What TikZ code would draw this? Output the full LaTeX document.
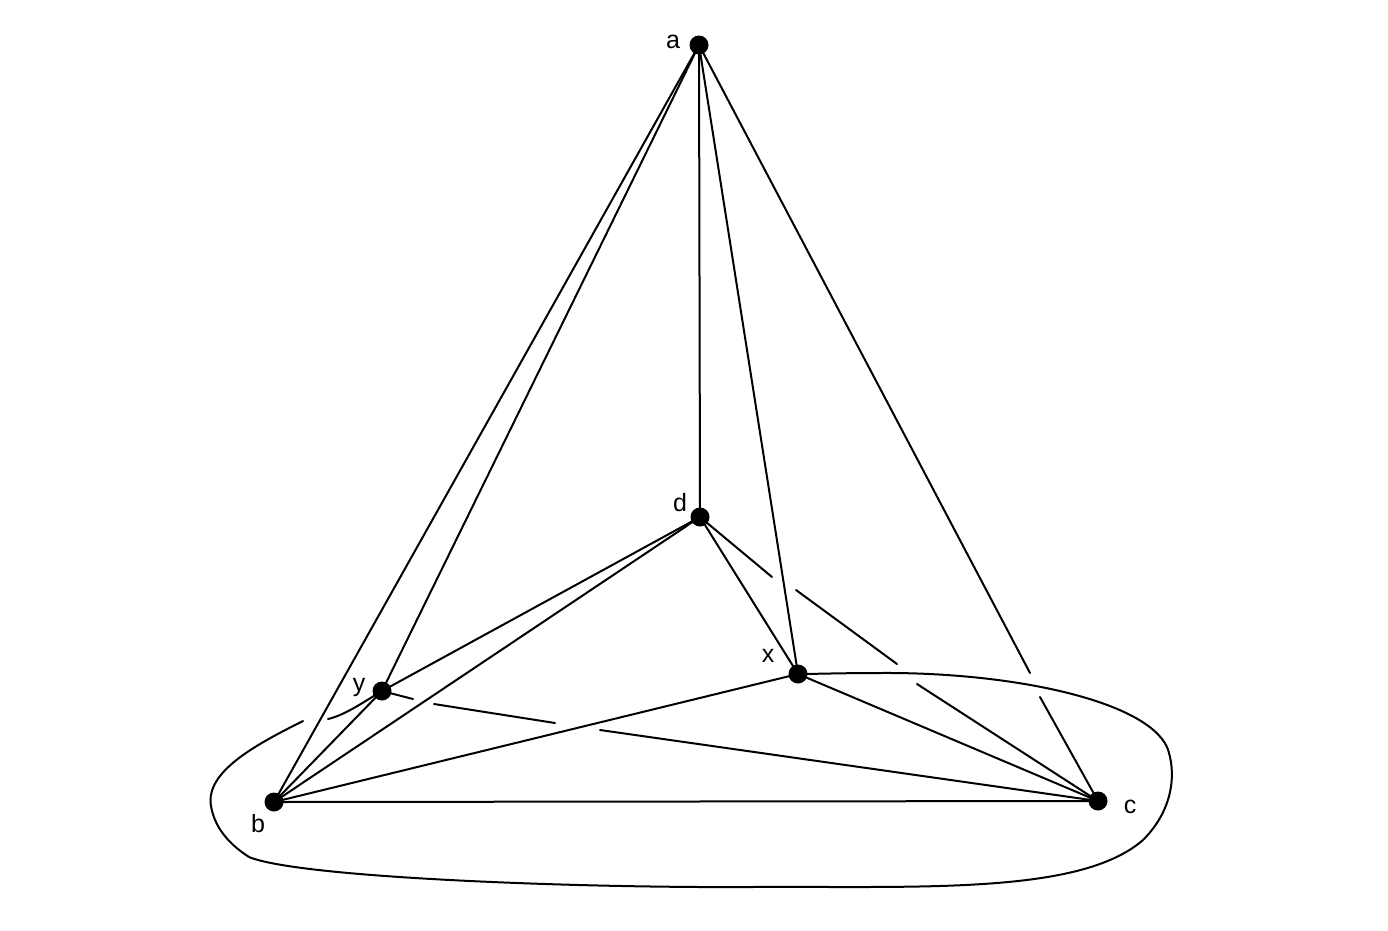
\documentclass[tikz,border=0pt]{standalone}
\usepackage{fontspec}
\setmainfont{Liberation Sans}
\begin{document}
\begin{tikzpicture}[x=1pt,y=-1pt,
  dot/.style={circle,fill=black,inner sep=0pt,minimum size=19pt},
  lbl/.style={inner sep=0pt,font=\fontsize{25}{28}\selectfont},
  edge/.style={line width=2pt,line cap=round}]
\useasboundingbox (0,0) rectangle (1388,930);
% vertices
\node[dot] (a) at (699,45) {};
\node[dot] (b) at (274,802) {};
\node[dot] (c) at (1098,801) {};
\node[dot] (d) at (700,517) {};
\node[dot] (x) at (798,674) {};
\node[dot] (y) at (382,691) {};
% labels
\node[lbl] (la) at (673,42) {a};
\node[lbl] (ld) at (680,503) {d};
\node[lbl] (lx) at (768,656) {x};
\node[lbl] (ly) at (359,687) {y};
\node[lbl] (lb) at (258,824) {b};
\node[lbl] (lc) at (1130,807) {c};
% gap coordinates
\coordinate (ac1) at (1030,673);
\coordinate (ac2) at (1040,697);
\coordinate (dc1) at (772,577);
\coordinate (dc2) at (796,590);
\coordinate (dc3) at (897,664);
\coordinate (dc4) at (917,684);
\coordinate (yc1) at (413,699);
\coordinate (yc2) at (434,704);
\coordinate (yc3) at (555,723);
\coordinate (yc4) at (600,730);
\coordinate (cv1) at (328,719);
\coordinate (cv2) at (303,721);
% edges
\draw[edge] (a.center) -- (b.center);
\draw[edge] (a.center) -- (y.center);
\draw[edge] (a.center) -- (d.center);
\draw[edge] (a.center) -- (x.center);
\draw[edge] (a.center) -- (ac1);
\draw[edge] (ac2) -- (c.center);
\draw[edge] (d.center) -- (y.center);
\draw[edge] (d.center) -- (b.center);
\draw[edge] (d.center) -- (x.center);
\draw[edge] (d.center) -- (dc1);
\draw[edge] (dc2) -- (dc3);
\draw[edge] (dc4) -- (c.center);
\draw[edge] (x.center) -- (b.center);
\draw[edge] (x.center) -- (c.center);
\draw[edge] (y.center) -- (b.center);
\draw[edge] (y.center) -- (yc1);
\draw[edge] (yc2) -- (yc3);
\draw[edge] (yc4) -- (c.center);
\draw[edge] (b.center) -- (c.center);
% closed curve (y to x around b and c)
\draw[edge] (y.center) .. controls (362,703) and (345,715) .. (cv1);
\draw[edge] (cv2) .. controls (255,745) and (205,772) .. (211,806)
  .. controls (215,830) and (232,846) .. (249,857)
  .. controls (300,878) and (580,888) .. (750,887)
  .. controls (920,886) and (1080,895) .. (1143,840)
  .. controls (1175,808) and (1176,770) .. (1167,747)
  .. controls (1145,700) and (1010,672) .. (880,673)
  .. controls (840,673) and (815,674) .. (x.center);
\end{tikzpicture}
\end{document}
